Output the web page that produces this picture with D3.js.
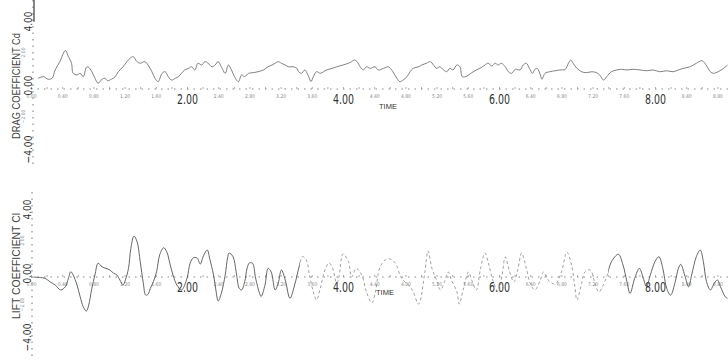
<!DOCTYPE html>
<html>
<head>
<meta charset="utf-8">
<script src="https://cdn.jsdelivr.net/npm/d3@7"></script>
<style>
  html, body { margin: 0; padding: 0; background: #fff; }
  svg { display: block; }
</style>
</head>
<body>
<svg id="chart" width="728" height="360"></svg>
<script>
// Drag coefficient history
const dragTime = [0.09,0.16,0.22,0.27,0.31,0.37,0.44,0.48,0.52,0.54,
  0.59,0.63,0.67,0.71,0.73,0.78,0.82,0.86,0.91,0.95,
  0.98,1.03,1.08,1.12,1.18,1.23,1.27,1.31,1.36,1.40,
  1.46,1.50,1.55,1.59,1.63,1.68,1.72,1.76,1.80,1.85,
  1.89,1.93,1.97,2.02,2.06,2.10,2.14,2.19,2.23,2.27,
  2.32,2.36,2.40,2.44,2.49,2.53,2.57,2.62,2.66,2.70,
  2.74,2.79,2.85,2.91,2.98,3.04,3.09,3.13,3.17,3.21,
  3.26,3.30,3.36,3.41,3.43,3.47,3.51,3.56,3.59,3.62,
  3.66,3.71,3.75,3.79,3.86,3.92,4.00,4.07,4.11,4.15,
  4.18,4.22,4.26,4.30,4.35,4.41,4.45,4.52,4.58,4.64,
  4.69,4.73,4.77,4.82,4.86,4.90,4.97,5.01,5.07,5.12,
  5.16,5.20,5.24,5.29,5.33,5.37,5.41,5.46,5.50,5.53,
  5.59,5.65,5.71,5.78,5.82,5.86,5.91,5.95,5.99,6.03,
  6.08,6.12,6.16,6.21,6.27,6.31,6.35,6.39,6.43,6.46,
  6.49,6.53,6.55,6.59,6.65,6.72,6.78,6.85,6.89,6.92,
  6.95,7.00,7.06,7.12,7.19,7.25,7.29,7.34,7.38,7.44,
  7.51,7.57,7.64,7.72,7.81,7.89,7.98,8.06,8.15,8.23,
  8.30,8.36,8.43,8.47,8.53,8.60,8.64,8.71,8.75,8.81,
  8.88,8.93];
const dragCd = [0.67,0.77,0.61,0.67,1.19,1.71,2.40,2.02,1.61,0.98,
  0.88,0.98,0.77,1.36,1.39,1.08,0.67,0.36,0.61,0.67,
  0.52,0.61,0.77,1.08,1.39,1.71,1.92,2.02,1.71,1.61,
  1.71,1.50,1.08,0.67,0.46,0.98,1.08,0.77,0.56,0.67,
  0.77,0.98,1.19,1.29,1.39,1.19,1.61,1.50,1.71,1.61,
  1.39,1.50,1.71,1.39,0.98,1.50,1.19,0.67,0.46,0.88,
  0.77,0.98,1.02,1.08,1.19,1.39,1.50,1.61,1.71,1.61,
  1.50,1.39,1.39,1.29,1.08,0.98,1.19,0.77,0.46,0.77,
  1.08,0.98,1.08,1.19,1.29,1.39,1.50,1.61,1.71,1.81,
  1.71,1.39,1.19,1.39,1.29,1.39,1.19,1.29,1.39,1.08,
  0.67,0.46,0.56,0.77,1.08,1.29,1.39,1.50,1.61,1.71,
  1.50,1.29,1.39,1.19,1.08,1.29,1.19,1.50,1.39,0.77,
  0.81,1.02,1.19,1.36,1.50,1.61,1.44,1.61,1.50,1.61,
  1.39,1.08,0.98,1.23,1.19,1.50,1.61,1.29,0.98,1.23,
  1.29,0.88,0.61,0.98,1.08,1.14,1.19,1.23,1.61,1.81,
  1.61,1.29,1.08,1.02,1.08,1.02,0.88,0.56,0.77,1.08,
  1.19,1.23,1.19,1.23,1.19,1.14,1.19,1.08,1.14,1.08,
  1.19,1.29,1.36,1.44,1.61,1.77,1.61,1.08,0.98,1.08,
  1.29,1.50];

// Lift coefficient history
const liftTime = [0.03,0.12,0.18,0.24,0.31,0.38,0.44,0.48,0.51,0.54,
  0.59,0.63,0.67,0.71,0.74,0.78,0.82,0.86,0.91,0.96,
  1.01,1.06,1.10,1.14,1.18,1.21,1.25,1.28,1.32,1.36,
  1.40,1.44,1.47,1.50,1.53,1.57,1.61,1.65,1.70,1.74,
  1.78,1.82,1.87,1.93,2.00,2.04,2.08,2.13,2.17,2.21,
  2.26,2.29,2.34,2.37,2.40,2.44,2.49,2.52,2.54,2.59,
  2.63,2.67,2.70,2.74,2.77,2.80,2.84,2.88,2.93,2.95,
  3.00,3.04,3.08,3.13,3.17,3.21,3.26,3.32,3.38,3.44,
  3.48,3.53,3.57,3.62,3.66,3.71,3.76,3.82,3.86,3.92,
  3.95,4.00,4.07,4.11,4.17,4.24,4.30,4.37,4.42,4.47,
  4.54,4.60,4.67,4.73,4.77,4.86,4.90,4.97,5.05,5.09,
  5.14,5.20,5.25,5.31,5.35,5.39,5.46,5.49,5.54,5.61,
  5.65,5.71,5.76,5.82,5.87,5.92,5.99,6.04,6.08,6.13,
  6.19,6.24,6.29,6.35,6.40,6.46,6.53,6.57,6.63,6.72,
  6.80,6.87,6.93,6.97,7.00,7.06,7.10,7.17,7.23,7.28,
  7.33,7.38,7.44,7.53,7.59,7.64,7.68,7.74,7.80,7.85,
  7.89,7.94,8.00,8.05,8.10,8.15,8.20,8.26,8.30,8.33,
  8.38,8.43,8.47,8.53,8.58,8.62,8.66,8.71,8.76,8.80,
  8.84,8.90,8.93];
const liftCl = [0,-0.04,-0.08,-0.29,-0.50,-0.81,-0.61,-0.08,0.33,0.13,
  -0.50,-1.23,-1.86,-2.13,-1.75,-0.71,0.13,0.86,0.64,0.54,
  0.44,0.23,0.13,-0.19,-0.50,-0.19,0.54,1.79,2.56,2.21,
  0.96,-0.39,-1.13,-1.08,-0.71,-0.29,0.33,1.38,1.83,1.58,
  0.86,0.13,-0.50,-0.81,-0.08,0.86,1.19,1.19,0.81,1.31,
  1.69,1.17,0.13,-0.81,-1.50,-1.02,0.13,1.19,1.50,1.27,
  0.33,-0.71,-0.81,-0.29,0.54,0.88,0.86,-0.08,-1.02,-1.22,
  -0.50,0.54,0.31,-0.81,-0.38,0.44,-0.19,-1.33,-0.50,0.69,
  1.28,1.06,0.13,-0.94,-1.44,-0.69,0.31,0.88,0.63,-0.39,
  0.06,1.44,0.96,0.00,0.54,0.13,-0.92,-1.63,-0.81,0.56,
  1.06,1.13,0.88,0.13,-0.19,-0.61,-0.92,-1.69,0.33,1.63,
  0.54,-0.19,-0.81,-0.19,0.31,-0.19,-0.92,-1.69,-0.81,0.31,
  -0.19,-0.81,0.44,1.50,0.75,-0.19,-0.94,0.13,1.25,0.44,
  -0.31,0.44,1.50,0.54,-0.39,-0.81,-0.19,0.31,-0.19,-0.44,
  0.31,1.56,0.75,-0.50,-1.44,-0.39,0.31,0.44,-0.39,-0.94,
  -0.56,0.00,0.94,1.42,0.75,-0.29,-1.02,-0.08,0.54,-0.08,
  -0.61,0.13,0.96,1.27,0.54,-0.71,-1.13,-0.29,0.54,0.79,
  0.13,-0.61,0.13,1.27,1.69,0.96,-0.29,-0.81,-0.39,-0.19,
  -0.61,-1.23,-1.33];

// Tick labels
const majorTimeTicks = [2, 4, 6, 8];
const minorTimeTicks = [0, 0.4, 0.8, 1.2, 1.6, 2.4, 2.8, 3.2, 3.6, 4.4, 4.8, 5.2, 5.6, 6.4, 6.8, 7.2, 7.6, 8.4, 8.8];
const coefTicks = [-4, 0, 4];
const minorCoefTicks = [-2, 2];
const panelTitles = ["DRAG COEFFICIENT  Cd", "LIFT COEFFICIENT  Cl"];
const timeLabel = "TIME";

const svg = d3.select("#chart");
const defs = svg.append("defs");
const fmt = d => (d < 0 ? "\u2212" : "") + Math.abs(d).toFixed(2);
const numFont = "'Liberation Sans Narrow', 'DejaVu Sans Condensed', 'Liberation Sans', Arial, sans-serif";

const x = d3.scaleLinear().domain([0, 9]).range([31, 733]);

// time window where the plotter pen ran light and broken
const faintSpan = [3.45, 7.4];

const panels = [
  { id: "drag", title: panelTitles[0], times: dragTime, values: dragCd, range: [153, 25],
    axisTop: 0, axisBottom: 168, axisX: 33, titleY: 86, timeX: 388, timeY: 109,
    cap: true, faint: false },
  { id: "lift", title: panelTitles[1], times: liftTime, values: liftCl, range: [341, 213],
    axisTop: 192, axisBottom: 357, axisX: 32, titleY: 266, timeX: 385, timeY: 295,
    cap: false, faint: true }
];

panels.forEach(p => {
  const y = d3.scaleLinear().domain([-4, 4]).range(p.range);
  const g = svg.append("g");
  const y0 = y(0);

  // vertical axis, dotted
  g.append("line")
    .attr("x1", p.axisX).attr("x2", p.axisX)
    .attr("y1", p.axisTop).attr("y2", p.axisBottom)
    .attr("stroke", "#777").attr("stroke-width", 1)
    .attr("stroke-dasharray", "1.5,5");
  if (p.cap) {
    g.append("line")
      .attr("x1", p.axisX + 1).attr("x2", p.axisX + 1)
      .attr("y1", p.axisTop).attr("y2", y(4.2))
      .attr("stroke", "#555").attr("stroke-width", 1.4);
  }

  // horizontal time axis along zero, dotted
  g.append("line")
    .attr("x1", x(0)).attr("x2", 728)
    .attr("y1", y0).attr("y2", y0)
    .attr("stroke", "#888").attr("stroke-width", 1)
    .attr("stroke-dasharray", "1.5,5");

  // small tick marks on the time axis
  const tickAxis = d3.axisBottom(x).ticks(45).tickSize(-2).tickFormat("");
  const tg = g.append("g").attr("transform", `translate(0,${y0})`).call(tickAxis);
  tg.select(".domain").remove();
  tg.selectAll(".tick line").attr("stroke", "#999").attr("stroke-width", 0.8);

  // minor time labels
  const minorAxis = d3.axisBottom(x).tickValues(minorTimeTicks).tickSize(0).tickPadding(5).tickFormat(fmt);
  const mg = g.append("g").attr("transform", `translate(0,${y0})`).call(minorAxis);
  mg.select(".domain").remove();
  mg.selectAll("text")
    .attr("fill", "#8a8a8a")
    .style("font-family", numFont)
    .style("font-size", "5px");

  // major time labels
  const majorAxis = d3.axisBottom(x).tickValues(majorTimeTicks).tickSize(0).tickPadding(5.5).tickFormat(fmt);
  const Mg = g.append("g").attr("transform", `translate(0,${y0})`).call(majorAxis);
  Mg.select(".domain").remove();
  Mg.selectAll("text")
    .attr("fill", "#333")
    .attr("textLength", 21)
    .attr("lengthAdjust", "spacingAndGlyphs")
    .style("font-family", numFont)
    .style("font-size", "14px");

  // coefficient labels, written vertically beside the axis
  const yAxis = d3.axisLeft(y).tickValues(coefTicks).tickSize(0).tickFormat(fmt);
  const yg = g.append("g").attr("transform", `translate(${p.axisX},0)`).call(yAxis);
  yg.select(".domain").remove();
  yg.selectAll("text")
    .attr("x", null).attr("dy", null)
    .attr("text-anchor", "middle")
    .attr("transform", "translate(-1,-4) rotate(-90)")
    .attr("fill", "#333")
    .attr("textLength", d => d < 0 ? 28 : 20)
    .attr("lengthAdjust", "spacingAndGlyphs")
    .style("font-family", numFont)
    .style("font-size", "11px");

  const yMinor = d3.axisLeft(y).tickValues(minorCoefTicks).tickSize(0).tickFormat(fmt);
  const ymg = g.append("g").attr("transform", `translate(${p.axisX},0)`).call(yMinor);
  ymg.select(".domain").remove();
  ymg.selectAll("text")
    .attr("x", null).attr("dy", null)
    .attr("text-anchor", "middle")
    .attr("transform", "translate(-8,-5) rotate(-90)")
    .attr("fill", "#9a9a9a")
    .style("font-family", numFont)
    .style("font-size", "5px");

  // axis title
  g.append("text")
    .attr("transform", `translate(20,${p.titleY}) rotate(-90)`)
    .attr("text-anchor", "middle")
    .attr("fill", "#444")
    .attr("textLength", 106)
    .attr("lengthAdjust", "spacingAndGlyphs")
    .style("font-family", "'Liberation Sans', Arial, sans-serif")
    .style("font-size", "10px")
    .text(p.title);

  g.append("text")
    .attr("x", p.timeX).attr("y", p.timeY)
    .attr("text-anchor", "middle")
    .attr("fill", "#333")
    .attr("textLength", 18)
    .attr("lengthAdjust", "spacingAndGlyphs")
    .style("font-family", "'Liberation Sans', Arial, sans-serif")
    .style("font-size", "6.5px")
    .text(timeLabel);

  // coefficient history
  const pts = p.times.map((t, i) => [t, p.values[i]]);
  const line = d3.line()
    .x(d => x(d[0]))
    .y(d => y(d[1]))
    .curve(d3.curveCatmullRom.alpha(0.5));
  const dPath = line(pts);

  if (!p.faint) {
    g.append("path")
      .attr("d", dPath)
      .attr("fill", "none")
      .attr("stroke", "#6a6a6a")
      .attr("stroke-width", 0.85)
      .attr("stroke-linejoin", "round");
  } else {
    const top = p.range[1] - 40, h = p.range[0] - p.range[1] + 80;
    defs.append("clipPath").attr("id", p.id + "-solid")
      .call(c => {
        c.append("rect").attr("x", 0).attr("y", top).attr("width", x(faintSpan[0])).attr("height", h);
        c.append("rect").attr("x", x(faintSpan[1])).attr("y", top).attr("width", 728 - x(faintSpan[1])).attr("height", h);
      });
    defs.append("clipPath").attr("id", p.id + "-faint")
      .append("rect").attr("x", x(faintSpan[0])).attr("y", top)
      .attr("width", x(faintSpan[1]) - x(faintSpan[0])).attr("height", h);

    g.append("path")
      .attr("d", dPath)
      .attr("clip-path", `url(#${p.id}-solid)`)
      .attr("fill", "none")
      .attr("stroke", "#555")
      .attr("stroke-width", 0.9)
      .attr("stroke-linejoin", "round");
    g.append("path")
      .attr("d", dPath)
      .attr("clip-path", `url(#${p.id}-faint)`)
      .attr("fill", "none")
      .attr("stroke", "#8a8a8a")
      .attr("stroke-width", 0.8)
      .attr("stroke-dasharray", "3,2.5")
      .attr("stroke-linejoin", "round");
  }
});
</script>
</body>
</html>
